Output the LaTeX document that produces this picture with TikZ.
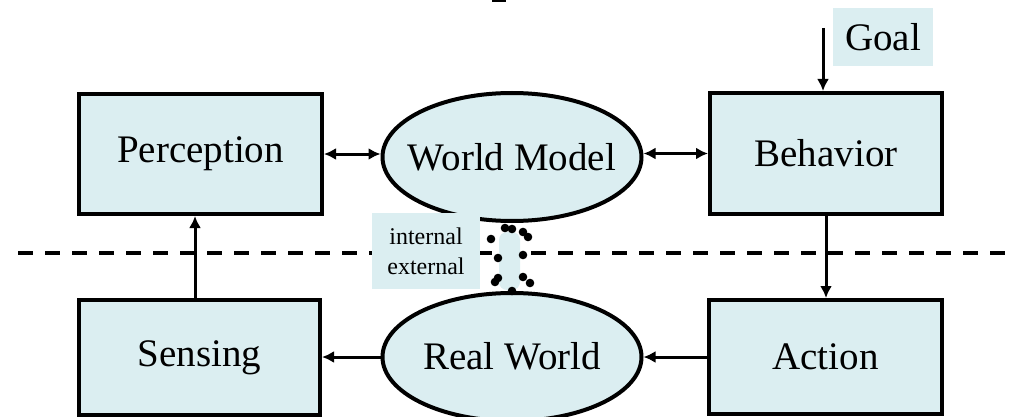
\documentclass[tikz,border=0pt]{standalone}
\usepackage{fontspec}
\setmainfont{Liberation Serif}
\usetikzlibrary{shapes.geometric,arrows.meta}
\definecolor{paleblue}{RGB}{219,238,241}
\begin{document}
\begin{tikzpicture}[x=1pt,y=-1pt,
  box/.style={draw=black,line width=4pt,fill=paleblue,rectangle,inner sep=0pt,
    font=\fontsize{39}{44}\selectfont},
  oval/.style={draw=black,line width=4pt,fill=paleblue,ellipse,inner sep=0pt,
    minimum width=259pt,minimum height=128pt},
  ovaltext/.style={font=\fontsize{39}{44}\selectfont,inner sep=0pt},
  tag/.style={fill=paleblue,inner sep=0pt},
  flow/.style={line width=3pt,-{Latex[length=12pt,width=12pt]}},
  both/.style={line width=3pt,{Latex[length=12pt,width=12pt]}-{Latex[length=12pt,width=12pt]}},
  divider/.style={line width=4pt,dash pattern=on 15pt off 12pt},
  dot/.style={fill=black}]
\useasboundingbox (0,0) rectangle (1009,417);

% foot of the heading above the figure
\fill (492,0) rectangle (506,2.5);

% boundary between internal and external
\draw[divider] (18,253) -- (1009,253);

% blocks
\node[box,minimum width=243pt,minimum height=120pt] (perc) at (200.5,154) {Perception};
\node[box,minimum width=232pt,minimum height=121pt] (beh) at (826,153.5) {Behavior};
\node[box,minimum width=241pt,minimum height=115pt] (sens) at (199.5,357.5) {Sensing};
\node[box,minimum width=233pt,minimum height=114pt] (act) at (825.5,357) {Action};

\node[oval] (wm) at (512,157) {};
\node[ovaltext] at (wm.center) {World Model};
\node[oval] (rw) at (512,357) {};
\node[ovaltext] at ([yshift=1]rw.center) {Real World};

\node[tag,minimum width=100pt,minimum height=58pt,font=\fontsize{39}{44}\selectfont] (goal) at (883,37.5) {Goal};

\node[tag,minimum width=108pt,minimum height=76pt,align=center,
  font=\fontsize{24}{30}\selectfont] (io) at (426,251) {internal\\external};

% connectors
\draw[both] (perc.east) -- (perc.east -| wm.west);
\draw[both] (wm.east |- beh.west) -- (beh.west);
\draw[flow] (beh.south) -- (beh.south |- act.north);
\draw[flow] (act.west) -- (act.west -| rw.east);
\draw[flow] (rw.west) -- (rw.west -| sens.east);
\draw[flow] ([xshift=-4.5pt]sens.north) -- ([xshift=-4.5pt]sens.north |- perc.south);
\coordinate (gs) at (823,28);
\draw[flow] (gs) -- (gs |- beh.north);

% dotted link between the two worlds
\fill[paleblue,rounded corners=8pt] (499,232) rectangle (520,290);
\foreach \p in {(505,228),(491,239),(523,232),(528,237),(498,258),(523,255),
                (498,278),(495,282),(523,277),(530,283)}
  \fill[dot] \p circle (4.3pt);
\fill[dot] (wm.south) ++(0,6) circle (4.3pt);
\fill[dot] (rw.north) circle (4.3pt);
\end{tikzpicture}
\end{document}
